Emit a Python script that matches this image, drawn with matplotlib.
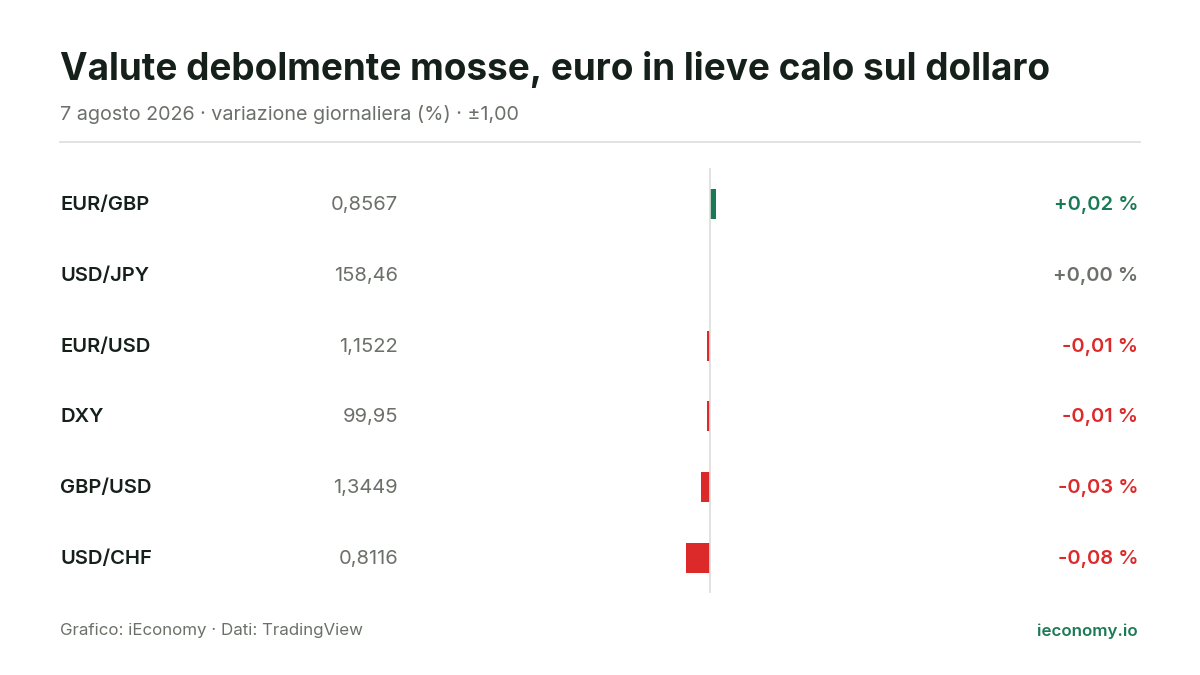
import matplotlib
matplotlib.use("Agg")
import matplotlib.pyplot as plt
from matplotlib.patches import FancyBboxPatch

pairs = ["EUR/GBP", "USD/JPY", "EUR/USD", "DXY", "GBP/USD", "USD/CHF"]
prices = ["0,8567", "158,46", "1,1522", "99,95", "1,3449", "0,8116"]
changes = [0.02, 0.00, -0.01, -0.01, -0.03, -0.08]

W, H = 1200, 675
GREEN = "#1a7a56"; RED = "#dc2a2a"; GRAY = "#6b7069"; DARK = "#15201b"
plt.rcParams['font.family'] = ['Inter', 'DejaVu Sans']
fig = plt.figure(figsize=(12, 6.75), dpi=100)
fig.patch.set_facecolor("white")

def fx(x): return x / W
def fy(y): return 1 - y / H

fig.text(fx(60), fy(69), "Valute debolmente mosse, euro in lieve calo sul dollaro",
         fontsize=26.6, fontweight="bold", color=DARK, va="center", ha="left")
fig.text(fx(60), fy(114), "7 agosto 2026 · variazione giornaliera (%) · ±1,00",
         fontsize=14.2, color=GRAY, va="center", ha="left")
fig.add_artist(plt.Line2D([fx(60), fx(1140)], [fy(142), fy(142)], color="#dddddd", lw=1.2))

ax = fig.add_axes([fx(410), fy(593), fx(600), (593 - 168) / H])
ax.set_xlim(-1, 1)
ax.set_ylim(5.5 + (593 - 558) / 71 - 0.5, -(204 - 168) / 71)
ax.axis("off")
ax.axvline(0, color="#dddddd", lw=1.2)
for i, c in enumerate(changes):
    col = GREEN if c > 0 else RED
    ax.barh(i, c, height=30 / 71, color=col, edgecolor="none")

for i, (p, pr, c) in enumerate(zip(pairs, prices, changes)):
    y = fy(205 + i * 70.8)
    fig.text(fx(60), y, p, fontsize=14.5, fontweight=600, color=DARK, va="center")
    fig.text(fx(398), y, pr, fontsize=14.5, color=GRAY, va="center", ha="right")
    col = GREEN if c > 0 else (RED if c < 0 else GRAY)
    s = ("+" if c >= 0 else "-") + f"{abs(c):.2f}".replace(".", ",") + " %"
    fig.text(fx(1138), y, s, fontsize=14.5, fontweight=600, color=col, va="center", ha="right")

fig.text(fx(60), fy(631), "Grafico: iEconomy · Dati: TradingView", fontsize=12.2, color=GRAY, va="center")
fig.text(fx(1138), fy(631), "ieconomy.io", fontsize=12.2, fontweight=600, color=GREEN, va="center", ha="right")

fig.savefig("out.png", dpi=100, facecolor="white")
